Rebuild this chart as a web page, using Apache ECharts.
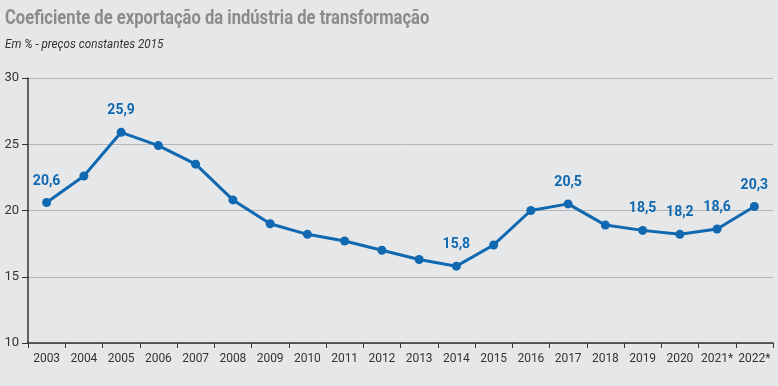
<!DOCTYPE html>
<html><head><meta charset="utf-8">
<script src="https://cdn.jsdelivr.net/npm/echarts@6/dist/echarts.min.js"></script>
<style>html,body{margin:0;padding:0;background:#e6e7e9;}#c{width:778px;height:386px;}</style>
</head><body><div id="c"></div>
<script>
const categories = ['2003','2004','2005','2006','2007','2008','2009','2010','2011','2012','2013','2014','2015','2016','2017','2018','2019','2020','2021*','2022*'];
const values = [20.6,22.6,25.9,24.9,23.5,20.8,19.0,18.2,17.7,17.0,16.3,15.8,17.4,20.0,20.5,18.9,18.5,18.2,18.6,20.3];
const labeledYears = ['2003','2005','2014','2017','2019','2020','2021*','2022*'];
const yTicks = [10,15,20,25,30];
const FONT = '"Roboto","Noto Sans",sans-serif';
const chart = echarts.init(document.getElementById('c'));
chart.setOption({
  backgroundColor:'#e6e7e9',
  animation:false,
  graphic:[
    {type:'text',left:5,top:9,scaleX:0.83,originX:0,
     style:{text:'Coeficiente de exportação da indústria de transformação',fontFamily:FONT,fontSize:20,fontWeight:'bold',fill:'#8a8b8d'}},
    {type:'text',left:5,top:38,scaleX:0.9,originX:0,
     style:{text:'Em % - preços constantes 2015',fontFamily:FONT,fontSize:13,fontStyle:'italic',fill:'#333'}}
  ],
  grid:{left:28,right:5,top:78,bottom:43},
  xAxis:{type:'category',data:categories,boundaryGap:true,
    axisLine:{lineStyle:{color:'#333',width:1.5}},
    axisTick:{show:true,length:5,interval:0,lineStyle:{color:'#333'}},
    axisLabel:{interval:0,fontFamily:FONT,fontSize:12,color:'#333',margin:10}},
  yAxis:{type:'value',min:yTicks[0],max:yTicks[yTicks.length-1],interval:5,
    axisLine:{show:true,lineStyle:{color:'#333',width:1.5}},
    axisTick:{show:true,length:6,lineStyle:{color:'#333'}},
    axisLabel:{fontFamily:FONT,fontSize:13,color:'#333',margin:9},
    splitLine:{lineStyle:{color:'#b4b5b7',width:1}}},
  series:[{type:'line',data:values.map((v,i)=>({value:v,label:{show:labeledYears.includes(categories[i])}})),
    symbol:'circle',symbolSize:9,
    lineStyle:{color:'#0f68b0',width:3},
    itemStyle:{color:'#0f68b0'},
    label:{position:'top',distance:10,fontFamily:FONT,fontSize:14,fontWeight:'bold',color:'#0f68b0',
      formatter:p=>p.value.toFixed(1).replace('.',',')}
  }]
});
</script></body></html>
